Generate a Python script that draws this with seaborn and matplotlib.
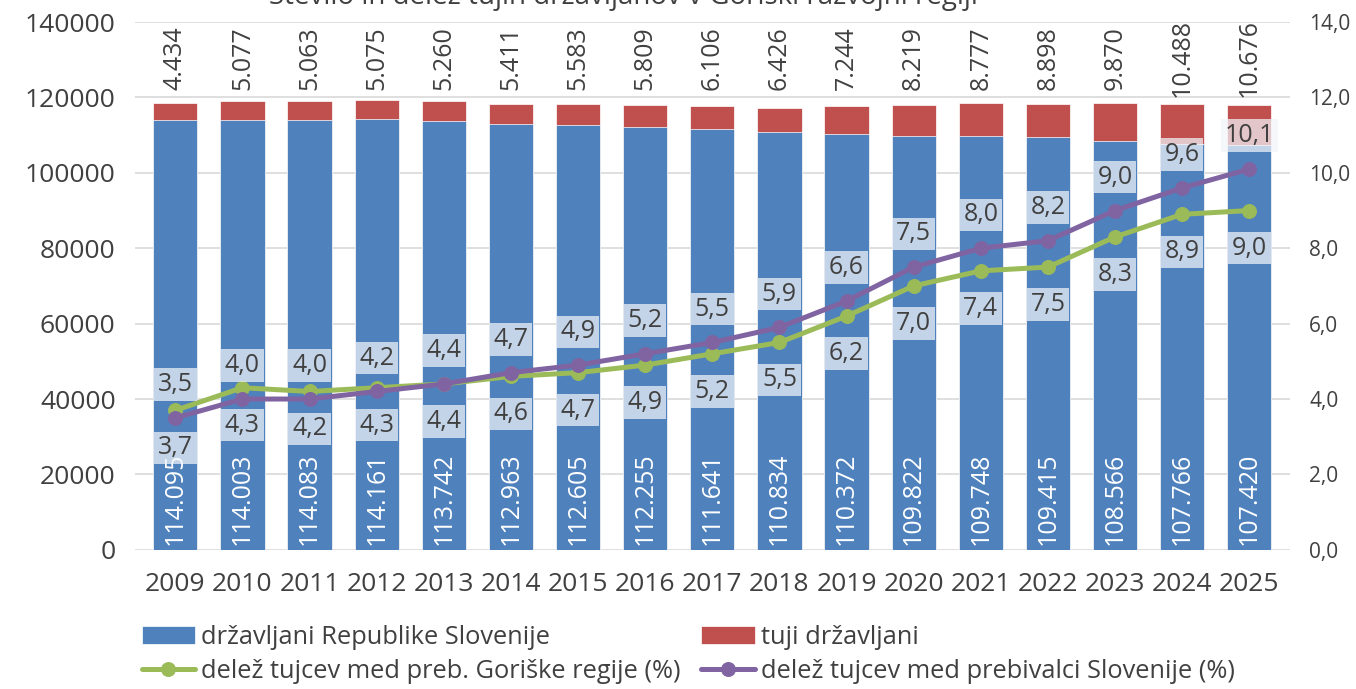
import numpy as np
import pandas as pd
import matplotlib.pyplot as plt
import seaborn as sns

leta = ['2009', '2010', '2011', '2012', '2013', '2014', '2015', '2016', '2017',
        '2018', '2019', '2020', '2021', '2022', '2023', '2024', '2025']
slovenci = [114095, 114003, 114083, 114161, 113742, 112963, 112605, 112255, 111641,
            110834, 110372, 109822, 109748, 109415, 108566, 107766, 107420]
tujci = [4434, 5077, 5063, 5075, 5260, 5411, 5583, 5809, 6106,
         6426, 7244, 8219, 8777, 8898, 9870, 10488, 10676]
delez_goriska = [3.7, 4.3, 4.2, 4.3, 4.4, 4.6, 4.7, 4.9, 5.2, 5.5, 6.2, 7.0, 7.4, 7.5, 8.3, 8.9, 9.0]
delez_slovenija = [3.5, 4.0, 4.0, 4.2, 4.4, 4.7, 4.9, 5.2, 5.5, 5.9, 6.6, 7.5, 8.0, 8.2, 9.0, 9.6, 10.1]

naslov = 'Število in delež tujih državljanov v Goriški razvojni regiji'

modra = '#4F81BD'
rdeca = '#C0504D'
zelena = '#9BBB59'
vijolicna = '#8064A2'
siva = '#404040'

sns.set_theme(style='white')
plt.rcParams['font.family'] = ['Open Sans', 'DejaVu Sans']

df = pd.DataFrame({'leto': leta, 'slo': slovenci, 'tuji': tujci})
df['skupaj'] = df['slo'] + df['tuji']

fig = plt.figure(figsize=(13.56, 6.89), dpi=100)
ax = fig.add_axes([0.0996, 0.202, 0.8514, 0.766])

sns.barplot(data=df, x='leto', y='skupaj', color=rdeca, saturation=1, width=0.66,
            ax=ax, label='tuji državljani', edgecolor='white', linewidth=0.5)
sns.barplot(data=df, x='leto', y='slo', color=modra, saturation=1, width=0.66,
            ax=ax, label='državljani Republike Slovenije', edgecolor='white', linewidth=0.5)

ax.set_ylim(0, 140000)
ax.set_yticks(np.arange(0, 140001, 20000))
ax.set_xlim(-0.6, len(leta) - 0.4)
ax.yaxis.grid(True, color='#D9D9D9', linewidth=1.2)
ax.set_axisbelow(True)
for s in ax.spines.values():
    s.set_visible(False)
ax.set_xlabel('')
ax.set_ylabel('')
ax.tick_params(axis='both', labelsize=19, colors=siva, length=0)
ax.tick_params(axis='x', pad=16)
ax.tick_params(axis='y', pad=14)

def fmt(v):
    return f'{v:,}'.replace(',', '.')

for i in range(len(leta)):
    ax.text(i, 130500, fmt(tujci[i]), rotation=90, ha='center', va='center',
            fontsize=18, color=siva)
    ax.text(i, 1300, fmt(slovenci[i]), rotation=90, ha='center', va='bottom',
            fontsize=18, color='white')

ax2 = ax.twinx()
x = np.arange(len(leta))
sns.lineplot(x=x, y=delez_goriska, ax=ax2, color=zelena, linewidth=3.6, marker='o',
             markersize=10, markeredgecolor=zelena, label='delež tujcev med preb. Goriške regije (%)')
sns.lineplot(x=x, y=delez_slovenija, ax=ax2, color=vijolicna, linewidth=3.6, marker='o',
             markersize=10, markeredgecolor=vijolicna, label='delež tujcev med prebivalci Slovenije (%)')
ax2.set_ylim(0, 14)
ax2.set_yticks(np.arange(0, 14.01, 2))
ax2.set_yticklabels([f'{v:.1f}'.replace('.', ',') for v in np.arange(0, 14.01, 2)])
ax2.tick_params(axis='y', labelsize=15, colors=siva, length=0, pad=14)
for s in ax2.spines.values():
    s.set_visible(False)
ax2.grid(False)
ax2.set_xlim(ax.get_xlim())

box = dict(boxstyle='square,pad=0.15', facecolor='#F2F5FA', alpha=0.72, edgecolor='none')
for i in range(len(leta)):
    ax2.annotate(f'{delez_slovenija[i]:.1f}'.replace('.', ','), (i, delez_slovenija[i]),
                 xytext=(0, 24), textcoords='offset points', ha='center', va='center',
                 fontsize=18, color=siva, bbox=box)
    ax2.annotate(f'{delez_goriska[i]:.1f}'.replace('.', ','), (i, delez_goriska[i]),
                 xytext=(0, -27), textcoords='offset points', ha='center', va='center',
                 fontsize=18, color=siva, bbox=box)

h1, l1 = ax.get_legend_handles_labels()
h2, l2 = ax2.get_legend_handles_labels()
ax2.get_legend().remove()
if ax.get_legend():
    ax.get_legend().remove()
hm = dict(zip(l1 + l2, h1 + h2))
vrstni = ['državljani Republike Slovenije', 'delež tujcev med preb. Goriške regije (%)',
          'tuji državljani', 'delež tujcev med prebivalci Slovenije (%)']
fig.legend([hm[k] for k in vrstni], vrstni, loc='lower left', bbox_to_anchor=(0.097, -0.008),
           ncol=2, frameon=False, fontsize=18.3, labelcolor=siva, handlelength=2.1,
           handletextpad=0.25, columnspacing=0.8, labelspacing=0.36, borderaxespad=0)

fig.text(0.46, 1.008, naslov, ha='center', va='center', fontsize=20, color=siva)

fig.savefig('out.png', dpi=100)
